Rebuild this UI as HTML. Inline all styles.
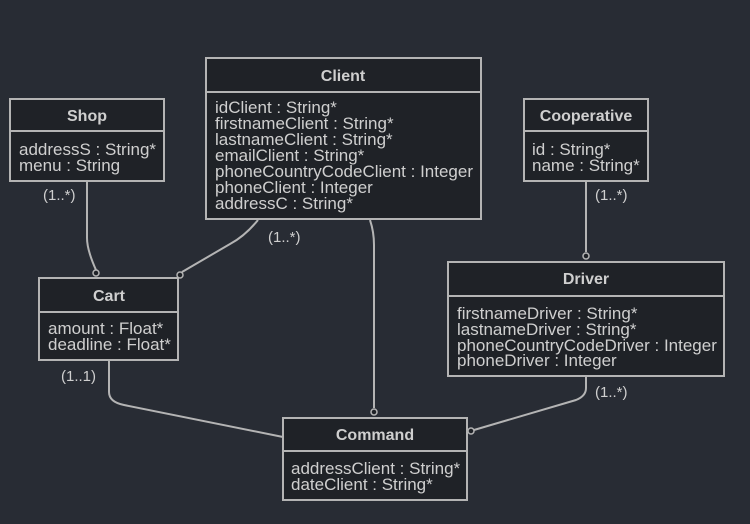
<!DOCTYPE html>
<html><head><style>
html,body{margin:0;padding:0;background:#282c34;}
svg{display:block}
text{font-family:"Liberation Sans",sans-serif;fill:#cfcfcf;font-size:15px}
.t{font-weight:bold;text-anchor:middle;font-size:16px}
.a{font-size:17px}
rect{fill:#1f2227;stroke:#b4b4b4;stroke-width:2}
.l{fill:none;stroke:#b4b4b4;stroke-width:2}
.c{fill:#1f2227;stroke:#b4b4b4;stroke-width:1.5}
</style></head><body>
<svg width="750" height="524" viewBox="0 0 750 524">
<path class="l" d="M87,181 V238 Q87,250 96,270"/>
<circle class="c" cx="96" cy="273" r="3"/>
<path class="l" d="M258,220 Q245,236 230,244 L182,272"/>
<circle class="c" cx="180" cy="275" r="3"/>
<path class="l" d="M370,220 Q374,232 374,245 V408"/>
<circle class="c" cx="374" cy="412" r="3"/>
<path class="l" d="M586,181 V252"/>
<circle class="c" cx="586" cy="256" r="3"/>
<path class="l" d="M586,376 V388 Q586,396 576,400 L474,430"/>
<circle class="c" cx="471" cy="431" r="3"/>
<path class="l" d="M109,360 V392 Q109,402 124,405 L283,437"/>

<rect x="206" y="58" width="275" height="161"/><line class="l" x1="206" y1="92" x2="481" y2="92"/>
<text class="t" x="343" y="81">Client</text>
<text class="a" x="215" y="113">idClient : String*</text>
<text class="a" x="215" y="129">firstnameClient : String*</text>
<text class="a" x="215" y="145">lastnameClient : String*</text>
<text class="a" x="215" y="161">emailClient : String*</text>
<text class="a" x="215" y="177">phoneCountryCodeClient : Integer</text>
<text class="a" x="215" y="193">phoneClient : Integer</text>
<text class="a" x="215" y="209">addressC : String*</text>

<rect x="10" y="99" width="154" height="82"/><line class="l" x1="10" y1="131" x2="164" y2="131"/>
<text class="t" x="87" y="121">Shop</text>
<text class="a" x="19" y="155">addressS : String*</text>
<text class="a" x="19" y="171">menu : String</text>

<rect x="524" y="99" width="124" height="82"/><line class="l" x1="524" y1="131" x2="648" y2="131"/>
<text class="t" x="586" y="121">Cooperative</text>
<text class="a" x="532" y="155">id : String*</text>
<text class="a" x="532" y="171">name : String*</text>

<rect x="39" y="278" width="139" height="82"/><line class="l" x1="39" y1="312" x2="178" y2="312"/>
<text class="t" x="109" y="301">Cart</text>
<text class="a" x="48" y="334">amount : Float*</text>
<text class="a" x="48" y="350">deadline : Float*</text>

<rect x="448" y="262" width="276" height="114"/><line class="l" x1="448" y1="296" x2="724" y2="296"/>
<text class="t" x="586" y="284">Driver</text>
<text class="a" x="457" y="319">firstnameDriver : String*</text>
<text class="a" x="457" y="335">lastnameDriver : String*</text>
<text class="a" x="457" y="351">phoneCountryCodeDriver : Integer</text>
<text class="a" x="457" y="366">phoneDriver : Integer</text>

<rect x="283" y="418" width="184" height="82"/><line class="l" x1="283" y1="451" x2="467" y2="451"/>
<text class="t" x="375" y="440">Command</text>
<text class="a" x="291" y="474">addressClient : String*</text>
<text class="a" x="291" y="490">dateClient : String*</text>

<text x="43" y="200" font-size="14">(1..*)</text>
<text x="268" y="242" font-size="14">(1..*)</text>
<text x="595" y="200" font-size="14">(1..*)</text>
<text x="595" y="397" font-size="14">(1..*)</text>
<text x="61" y="381" font-size="14">(1..1)</text>
</svg>
</body></html>
